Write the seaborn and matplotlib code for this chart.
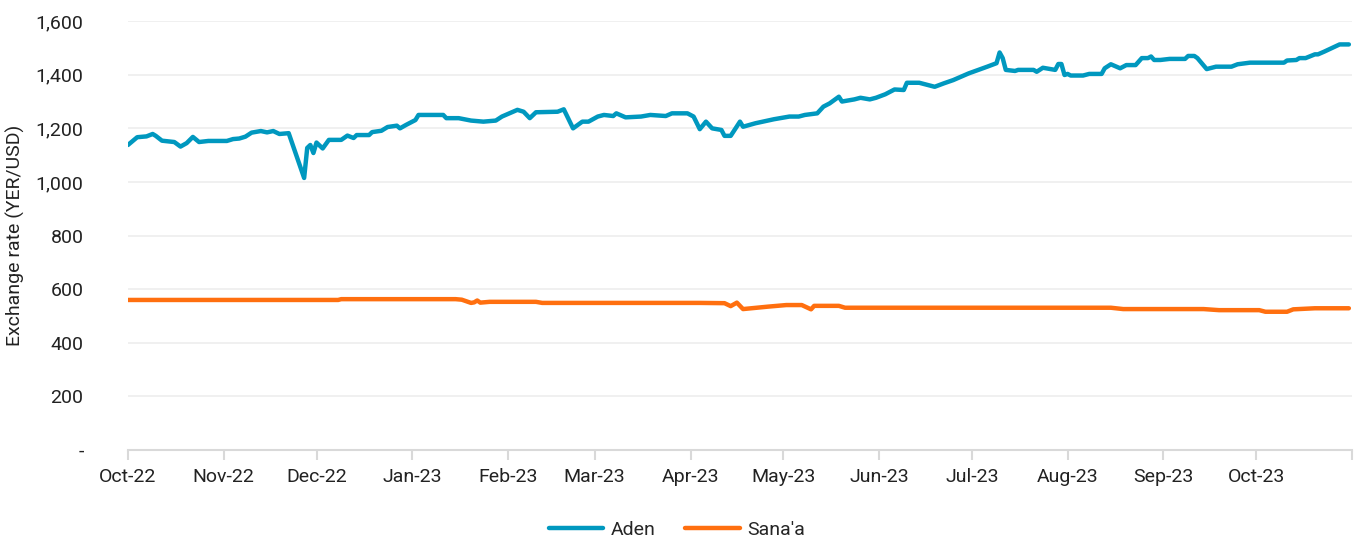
import pandas as pd
import seaborn as sns
import matplotlib.pyplot as plt
import matplotlib.dates as mdates
from matplotlib.ticker import FuncFormatter

# days since 1 Oct 2022
aden_days = [0, 2, 3, 6, 8, 9, 11, 15, 17, 19, 21, 23, 26, 32, 34, 36, 38, 40, 43, 45,
             47, 49, 52, 57, 58, 59, 60, 61, 63, 65, 69, 71, 73, 74, 78, 79, 82, 84, 87, 88,
             90, 93, 94, 102, 103, 107, 111, 115, 119, 121, 126, 128, 130, 132, 139, 141, 144, 147, 149, 152,
             154, 157, 158, 161, 166, 169, 174, 176, 181, 183, 185, 187, 189, 192, 193, 195, 198, 199, 203, 209,
             214, 217, 219, 223, 225, 227, 230, 231, 235, 237, 240, 242, 245, 248, 251, 252, 256, 261, 264, 267,
             272, 278, 281, 282, 283, 284, 287, 288, 293, 294, 296, 300, 301, 302, 303, 304, 305, 309, 311, 315,
             316, 318, 321, 323, 326, 328, 330, 331, 332, 334, 337, 342, 343, 345, 346, 349, 352, 357, 359, 363,
             374, 375, 378, 379, 381, 384, 385, 387, 392, 395]
aden_rate = [1138, 1157, 1167, 1170, 1179, 1172, 1154, 1149, 1132, 1145, 1168, 1149, 1153, 1153, 1160, 1162, 1169, 1184, 1190, 1185,
             1190, 1179, 1182, 1015, 1127, 1138, 1108, 1147, 1125, 1157, 1157, 1173, 1164, 1175, 1175, 1186, 1191, 1205, 1210, 1200,
             1213, 1231, 1250, 1250, 1238, 1238, 1229, 1225, 1229, 1244, 1269, 1262, 1238, 1260, 1262, 1271, 1200, 1225, 1225, 1244,
             1250, 1246, 1256, 1241, 1244, 1250, 1246, 1256, 1256, 1244, 1197, 1225, 1200, 1194, 1172, 1172, 1225, 1206, 1219, 1234,
             1244, 1244, 1250, 1256, 1281, 1293, 1318, 1300, 1308, 1314, 1308, 1314, 1327, 1345, 1343, 1370, 1370, 1355, 1368, 1380,
             1405, 1430, 1443, 1483, 1462, 1418, 1414, 1418, 1418, 1411, 1426, 1418, 1440, 1440, 1399, 1403, 1397, 1397, 1403, 1403,
             1424, 1439, 1424, 1436, 1436, 1462, 1462, 1468, 1455, 1455, 1459, 1459, 1470, 1470, 1462, 1421, 1430, 1430, 1439, 1445,
             1445, 1453, 1455, 1462, 1462, 1476, 1476, 1486, 1513, 1513]

sanaa_days = [0, 68, 69, 106, 108, 111, 112, 113, 114, 117, 132, 134, 185, 193, 195, 197, 199,
              207, 213, 218, 221, 222, 230, 232, 318, 322, 348, 353, 366, 368, 375, 377, 384, 395]
sanaa_rate = [560, 560, 563, 563, 561, 549, 551, 558, 550, 553, 553, 549, 549, 548, 537, 550, 526,
              535, 541, 541, 525, 538, 538, 531, 531, 526, 526, 522, 522, 516, 516, 525, 529, 529]

start = pd.Timestamp('2022-10-01')
df = pd.concat([
    pd.DataFrame({'date': start + pd.to_timedelta(aden_days, unit='D'), 'rate': aden_rate, 'city': 'Aden'}),
    pd.DataFrame({'date': start + pd.to_timedelta(sanaa_days, unit='D'), 'rate': sanaa_rate, 'city': "Sana'a"}),
])

sns.set_style('white')
plt.rcParams['font.family'] = ['Roboto', 'DejaVu Sans']

fig = plt.figure(figsize=(13.54, 5.41), dpi=100)
ax = fig.add_axes([0.0945, 0.168, 0.904, 0.793])

sns.lineplot(data=df, x='date', y='rate', hue='city', palette=['#0098BF', '#FF6F0F'],
             linewidth=3.2, ax=ax, legend=False)

ax.set_xlim(start, pd.Timestamp('2023-11-01'))
ax.set_ylim(0, 1600)
ax.set_yticks(range(0, 1601, 200))
ax.yaxis.set_major_formatter(FuncFormatter(lambda v, p: '-' if v == 0 else f'{int(v):,}'))
ax.xaxis.set_major_locator(mdates.MonthLocator(bymonth=range(1, 13)))
ax.xaxis.set_major_formatter(FuncFormatter(
    lambda v, p: '' if mdates.num2date(v).strftime('%b-%y') == 'Nov-23' else mdates.num2date(v).strftime('%b-%y')))

ax.grid(axis='y', color='#eeeeee', linewidth=1.2)
ax.grid(axis='x', visible=False)
for s in ['left', 'right', 'top']:
    ax.spines[s].set_visible(False)
ax.spines['bottom'].set_color('#d9d9d9')
ax.spines['bottom'].set_linewidth(1.5)
ax.tick_params(axis='x', which='major', length=7, width=1.5, color='#d9d9d9', direction='out',
               bottom=True, labelsize=14, pad=6, labelcolor='#222222')
ax.tick_params(axis='y', length=0, labelsize=14, pad=32, labelcolor='#222222')

ax.set_xlabel('')
ax.set_ylabel('Exchange rate (YER/USD)', fontsize=14, color='#222222', labelpad=8)

handles = [plt.Line2D([], [], color='#0098BF', lw=3.2), plt.Line2D([], [], color='#FF6F0F', lw=3.2)]
fig.legend(handles, ['Aden', "Sana'a"], loc='center', bbox_to_anchor=(0.5, 0.02), ncol=2,
           frameon=False, fontsize=14, handlelength=2.8, columnspacing=1.5, handletextpad=0.4)

fig.savefig('out.png', dpi=100)
